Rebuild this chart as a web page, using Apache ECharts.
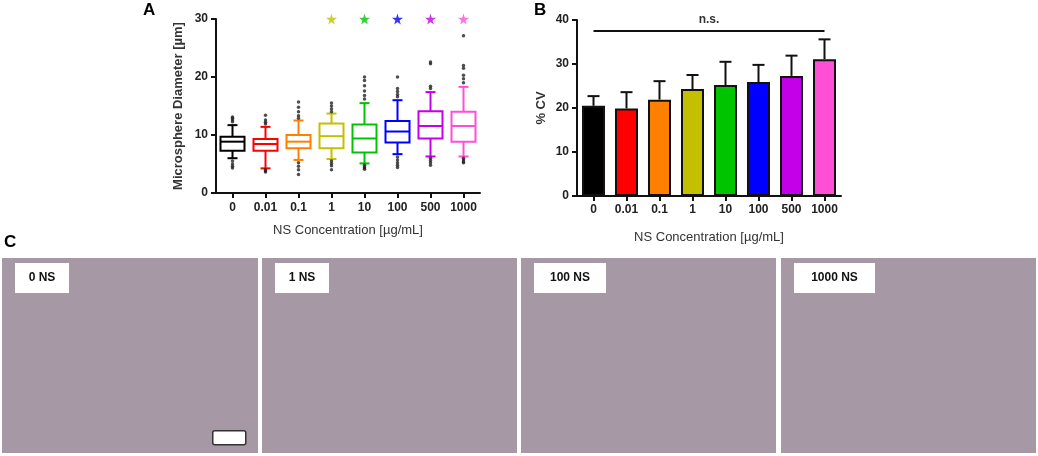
<!DOCTYPE html>
<html>
<head>
<meta charset="utf-8" />
<script src="https://cdn.jsdelivr.net/npm/echarts@6/dist/echarts.min.js"></script>
<style>
  html, body { margin: 0; padding: 0; background: #fff; }
  #chart { width: 1038px; height: 456px; }
</style>
</head>
<body>
<div id="chart"></div>
<script>
// categories and colours
var concentrations = ['0', '0.01', '0.1', '1', '10', '100', '500', '1000'];
var groupColors = ['#000000', '#ff0000', '#ff8000', '#c4c000', '#00c400', '#0000ff', '#c400e8', '#ff4fd6'];

// panel A: boxplot [low whisker, q1, median, q3, high whisker]
var diameterBoxes = [
    [6.0, 7.3, 8.85, 9.7, 11.7],
    [4.25, 7.3, 8.45, 9.3, 11.4],
    [5.7, 7.7, 8.85, 10.0, 12.5],
    [5.85, 7.7, 9.8, 12.0, 13.7],
    [5.1, 7.0, 9.4, 11.8, 15.5],
    [6.7, 8.7, 10.6, 12.4, 16.0],
    [6.3, 9.4, 11.55, 14.1, 17.4],
    [6.3, 8.85, 11.55, 14.0, 18.3]
];
var diameterOutliers = [
    [13.1, 12.9, 12.6, 12.3, 5.5, 5.0, 4.6, 4.3],
    [13.4, 12.6, 12.2, 11.9, 4.0, 3.8, 3.6],
    [15.7, 14.8, 14.0, 13.3, 12.9, 5.2, 4.6, 4.0, 3.2],
    [15.5, 15.0, 14.5, 14.0, 5.5, 5.1, 4.7, 4.0],
    [20.0, 19.4, 18.5, 17.6, 16.8, 16.2, 4.8, 4.5, 4.3, 4.1],
    [20.0, 18.0, 17.5, 17.0, 16.6, 6.2, 5.7, 5.2, 4.8, 4.4],
    [22.6, 22.3, 18.4, 18.0, 6.0, 5.6, 5.2, 4.8],
    [27.1, 22.0, 21.5, 20.3, 19.7, 19.0, 6.0, 5.7, 5.4, 5.2]
];
var significantGroups = ['1', '10', '100', '500', '1000'];
var starLevel = 30;

// panel B: %CV mean and upper error
var cvMean = [20.5, 19.9, 21.9, 24.3, 25.2, 25.9, 27.3, 31.1];
var cvUpper = [22.7, 23.6, 26.1, 27.5, 30.5, 29.8, 31.9, 35.6];
var nsLevel = 37.5;

// panel C: micrograph panels
var photoLabels = ['0 NS', '1 NS', '100 NS', '1000 NS'];

var FONT = '"Liberation Sans", Arial, sans-serif';

var chart = echarts.init(document.getElementById('chart'));

function axisCommon() {
    return {
        axisLine: { show: true, lineStyle: { color: '#111', width: 2 } },
        axisTick: { show: true, lineStyle: { color: '#111', width: 2 }, length: 5 },
        axisLabel: { color: '#222', fontFamily: FONT, fontSize: 12, fontWeight: 'bold' },
        nameTextStyle: { color: '#333', fontFamily: FONT, fontSize: 13 }
    };
}

var xA = Object.assign(axisCommon(), {
    type: 'category', gridIndex: 0, data: concentrations,
    name: 'NS Concentration [µg/mL]', nameLocation: 'middle', nameGap: 31,
    splitLine: { show: false }
});
xA.axisTick.alignWithLabel = true;
xA.axisLabel.margin = 9;
xA.axisLabel.interval = 0;
var yA = Object.assign(axisCommon(), {
    type: 'value', gridIndex: 0, min: 0, max: 30, interval: 10,
    name: 'Microsphere Diameter [µm]', nameLocation: 'middle', nameGap: 31,
    splitLine: { show: false }
});
yA.nameTextStyle.fontWeight = 'bold';
yA.axisLabel.margin = 8;

var xB = Object.assign(axisCommon(), {
    type: 'category', gridIndex: 1, data: concentrations,
    name: 'NS Concentration [µg/mL]', nameLocation: 'middle', nameGap: 35,
    splitLine: { show: false }
});
xB.axisTick.alignWithLabel = true;
xB.axisLabel.margin = 8;
xB.axisLabel.interval = 0;
var yB = Object.assign(axisCommon(), {
    type: 'value', gridIndex: 1, min: 0, max: 40, interval: 10,
    name: '% CV', nameLocation: 'middle', nameGap: 29,
    splitLine: { show: false }
});
yB.nameTextStyle.fontWeight = 'bold';
yB.axisLabel.margin = 8;

var boxData = diameterBoxes.map(function (b, i) { return [i].concat(b); });
var outlierData = [];
diameterOutliers.forEach(function (list, i) {
    list.forEach(function (v) { outlierData.push([i, v]); });
});
var starData = significantGroups.map(function (g) {
    var i = concentrations.indexOf(g);
    return { value: [i, starLevel], itemStyle: { color: groupColors[i] } };
});
var barData = cvMean.map(function (v, i) {
    return { value: v, itemStyle: { color: groupColors[i] } };
});
var errData = cvMean.map(function (v, i) { return [i, v, cvUpper[i]]; });

var STAR = 'path://M50,0 L61,35 L98,35 L68,57 L79,91 L50,70 L21,91 L32,57 L2,35 L39,35 Z';

// photo panel graphics
var photoX = [2, 262, 521, 781];
var photoW = [256, 255, 255, 255];
var photoGraphics = [];
photoLabels.forEach(function (lab, i) {
    photoGraphics.push({
        type: 'rect', left: photoX[i], top: 258,
        shape: { width: photoW[i], height: 195 },
        style: { fill: '#a798a6' }
    });
    var w = lab.length * 9 + 18;
    photoGraphics.push({
        type: 'group', left: photoX[i] + 13, top: 263,
        children: [
            { type: 'rect', shape: { width: w, height: 30 }, style: { fill: '#ffffff' } },
            { type: 'text', x: w / 2, y: 15,
              style: { text: lab, fill: '#111', font: 'bold 12px ' + FONT, align: 'center', verticalAlign: 'middle' } }
        ]
    });
});
photoGraphics.push({
    type: 'rect', left: 212, top: 430,
    shape: { width: 33, height: 14, r: 2 },
    style: { fill: '#ffffff', stroke: '#333', lineWidth: 1.5 }
});
['A', 'B', 'C'].forEach(function (t, i) {
    var pos = [[143, 2], [534, 2], [4, 234]][i];
    photoGraphics.push({
        type: 'text', left: pos[0], top: pos[1],
        style: { text: t, fill: '#000', font: 'bold 17px ' + FONT }
    });
});

var option = {
    animation: false,
    backgroundColor: '#fff',
    grid: [
        { left: 216, top: 19, width: 264, height: 174 },
        { left: 577, top: 20, width: 264, height: 176 }
    ],
    xAxis: [xA, xB],
    yAxis: [yA, yB],
    graphic: photoGraphics,
    series: [
        {
            type: 'custom', xAxisIndex: 0, yAxisIndex: 0,
            data: boxData,
            renderItem: function (params, api) {
                var i = api.value(0);
                var col = groupColors[i];
                var p = [1, 2, 3, 4, 5].map(function (k) { return api.coord([i, api.value(k)]); });
                var x = p[0][0];
                var hw = 12, cw = 5;
                var st = { stroke: col, lineWidth: 2, fill: null };
                return {
                    type: 'group',
                    children: [
                        { type: 'rect', shape: { x: x - hw, y: p[3][1], width: hw * 2, height: p[1][1] - p[3][1] },
                          style: { stroke: col, lineWidth: 2, fill: '#fff' } },
                        { type: 'line', shape: { x1: x - hw, y1: p[2][1], x2: x + hw, y2: p[2][1] }, style: st },
                        { type: 'line', shape: { x1: x, y1: p[3][1], x2: x, y2: p[4][1] }, style: st },
                        { type: 'line', shape: { x1: x, y1: p[1][1], x2: x, y2: p[0][1] }, style: st },
                        { type: 'line', shape: { x1: x - cw, y1: p[4][1], x2: x + cw, y2: p[4][1] }, style: st },
                        { type: 'line', shape: { x1: x - cw, y1: p[0][1], x2: x + cw, y2: p[0][1] }, style: st }
                    ]
                };
            },
            z: 2
        },
        {
            type: 'scatter', xAxisIndex: 0, yAxisIndex: 0,
            data: outlierData, symbolSize: 3.5,
            itemStyle: { color: '#222' }, z: 3
        },
        {
            type: 'scatter', xAxisIndex: 0, yAxisIndex: 0,
            data: starData, symbol: STAR, symbolSize: 11, clip: false, z: 3
        },
        {
            type: 'bar', xAxisIndex: 1, yAxisIndex: 1,
            data: barData, barWidth: 23,
            itemStyle: { borderColor: '#111', borderWidth: 2 },
            markLine: {
                symbol: 'none', silent: true,
                lineStyle: { color: '#111', width: 2, type: 'solid' },
                label: { formatter: 'n.s.', position: 'insideMiddleTop', distance: 5,
                         color: '#333', fontFamily: FONT, fontSize: 12, fontWeight: 'bold' },
                data: [[{ coord: ['0', nsLevel] }, { coord: ['1000', nsLevel] }]]
            }
        },
        {
            type: 'custom', xAxisIndex: 1, yAxisIndex: 1,
            data: errData,
            renderItem: function (params, api) {
                var i = api.value(0);
                var a = api.coord([i, api.value(1)]);
                var b = api.coord([i, api.value(2)]);
                var st = { stroke: '#111', lineWidth: 2 };
                return {
                    type: 'group',
                    children: [
                        { type: 'line', shape: { x1: a[0], y1: a[1], x2: b[0], y2: b[1] }, style: st },
                        { type: 'line', shape: { x1: b[0] - 6, y1: b[1], x2: b[0] + 6, y2: b[1] }, style: st }
                    ]
                };
            },
            z: 1
        }
    ]
};

chart.setOption(option);
</script>
</body>
</html>
